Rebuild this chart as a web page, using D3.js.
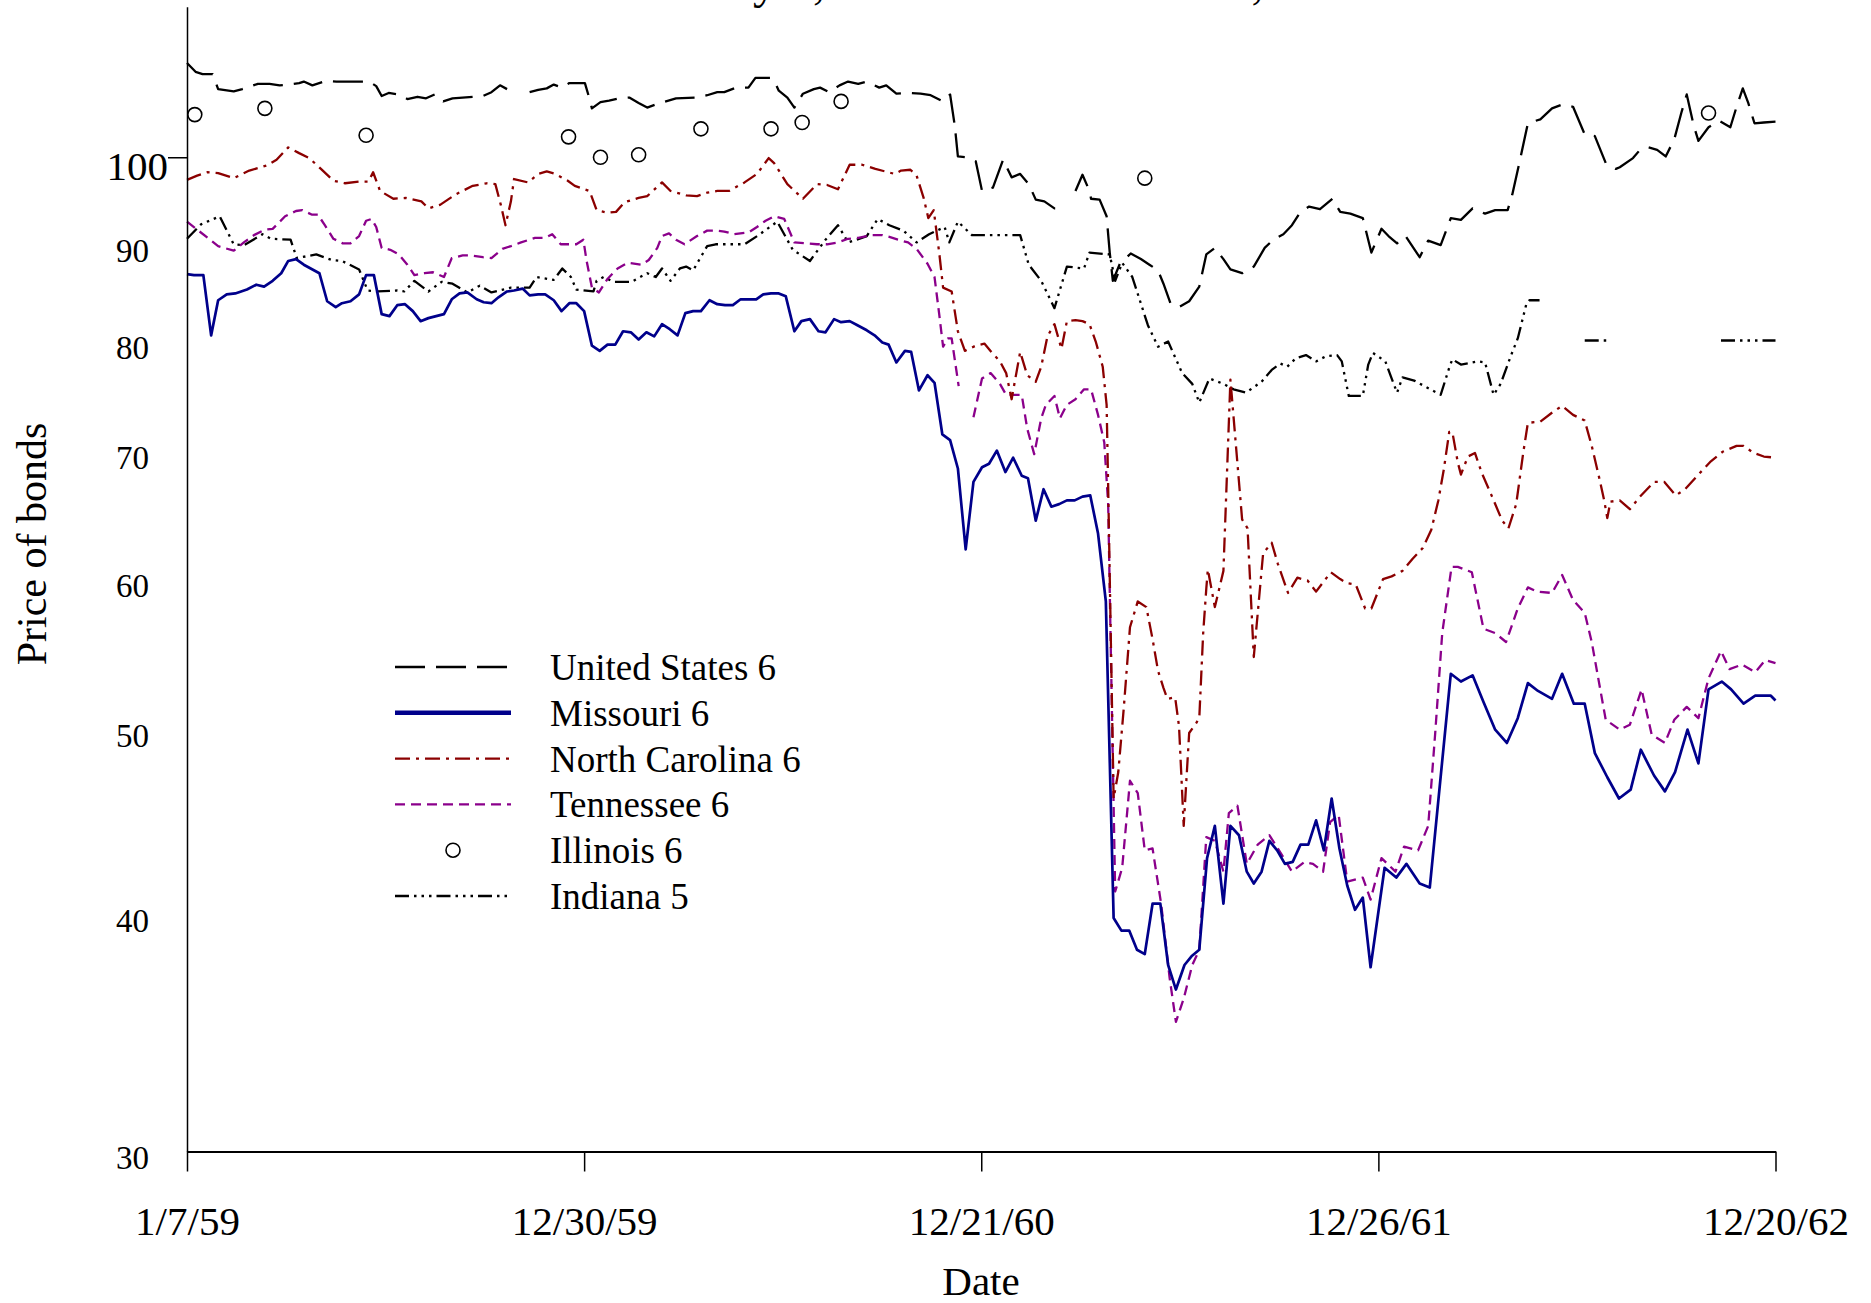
<!DOCTYPE html>
<html><head><meta charset="utf-8">
<script src="https://cdn.jsdelivr.net/npm/d3@7"></script>
<style>html,body{margin:0;padding:0;background:#fff;overflow:hidden}</style>
</head><body>
<svg id="chart" width="1871" height="1303" style="display:block"></svg>
<script>
// ---------------- DATA (week index from 1/7/59, price) ----------------
const xTickWeeks = [0, 51, 102, 153, 204];
const xTickLabels = ["1/7/59", "12/30/59", "12/21/60", "12/26/61", "12/20/62"];
const yTickValues = [30, 40, 50, 60, 70, 80, 90, 100];
const seriesNames = ["United States 6", "Missouri 6", "North Carolina 6", "Tennessee 6", "Illinois 6", "Indiana 5"];

const unitedStates6 = [[0,112.1],[1.1,110.9],[2,110.6],[3.3,110.6],[4,108.6],[6,108.3],[7.1,108.6],[9.1,109.3],[10.6,109.3],[11.9,109.1],[13,109.2],[14.4,109.4],[15,109.6],[16.1,109.1],[17.9,109.7],[19.2,109.6],[23.4,109.6],[24.3,109.0],[25,107.7],[25.9,108.1],[27.2,107.9],[28.3,107.3],[29.6,107.6],[30.7,107.4],[31.8,107.9],[32.9,107.0],[34.1,107.4],[36.7,107.6],[38,107.7],[39.1,108.2],[40.2,109.1],[41.1,108.6],[42.5,null],[44,108.2],[45.1,108.5],[46.2,108.7],[47.1,109.2],[48.2,108.8],[49.1,109.4],[51.1,109.4],[51.7,107.3],[52,106.1],[53.1,106.9],[54.2,107.1],[55.5,107.4],[56.8,107.5],[58,106.8],[59.1,106.2],[60.2,106.6],[61.5,107.0],[62.8,107.4],[65.5,107.5],[66.8,107.8],[68.1,108.2],[69,108.2],[70.5,108.8],[72.1,108.8],[73,110.1],[74.9,110.1],[75.4,109.7],[76,108.4],[77.1,107.5],[78,106.2],[79.1,108.0],[80.5,108.6],[81.3,108.8],[82.5,108.2],[83.8,109.1],[84.9,109.6],[86.2,109.3],[87.3,109.6],[88.9,108.8],[89.8,109.1],[91.1,108.0],[92.6,108.1],[94.2,108.0],[95.5,107.8],[97.1,107.0],[98,107.9],[98.6,103.9],[99,100.1],[100.1,100.0],[101.3,99.5],[102.1,96.0],[103.5,96.4],[104.8,99.7],[105.9,97.6],[107,98.0],[108.1,96.8],[109,95.0],[110.1,94.8],[111.4,94.0],[112.1,94.0],[113,null],[114.1,96.0],[115,97.9],[115.9,96.0],[116.1,95.1],[117.2,95.0],[118.1,93.1],[118.5,89.1],[118.9,86.1],[119.8,87.9],[121.2,89.0],[122.5,88.4],[123.6,87.8],[124.7,87.2],[125.4,85.8],[126.3,83.8],[127.4,83.4],[128.7,84.0],[130,85.5],[130.9,88.9],[132,89.6],[133.1,88.4],[134,87.3],[135.5,86.9],[137,87.6],[138.4,89.6],[139.5,90.5],[140.8,91.1],[141.9,92.1],[143,93.6],[144.1,94.2],[145.5,93.9],[147.1,95.1],[148.1,93.6],[149.4,93.4],[151,92.9],[152.1,89.1],[153.4,91.7],[154.3,90.9],[155.4,90.1],[156.5,90.9],[158.3,88.6],[159.4,90.4],[161,89.9],[162.3,92.9],[163.6,92.7],[165.1,94.0],[166.7,93.4],[168,93.8],[169.6,93.8],[170.2,95.6],[171.1,99.3],[172.2,104.2],[173.8,104.7],[175.3,106.1],[176.6,106.6],[178,106.3],[179.5,102.8],[180.8,102.6],[182.2,99.3],[183.5,98.6],[184,98.8],[185.7,99.9],[186.6,100.9],[187.7,101.2],[188.8,100.9],[189.9,100.1],[191,102.2],[191.9,105.5],[192.6,107.9],[193.5,103.9],[194.1,102.0],[195.4,103.7],[196.8,104.5],[198.2,103.7],[199,106.3],[199.8,108.7],[200.5,106.8],[201.3,104.2],[202.5,104.3],[204,104.4]];

const missouri6 = [[0,86.8],[0.9,86.7],[2.1,86.7],[3.1,80.6],[4,84.1],[5.1,84.7],[6.2,84.8],[7.7,85.2],[8.9,85.7],[9.9,85.5],[11,86.1],[12.1,86.9],[13,88.2],[14,88.4],[15,87.8],[17,86.9],[18,84.0],[19.1,83.4],[19.9,83.8],[21,84.0],[22.1,84.7],[23,86.7],[24,86.7],[25,82.7],[26,82.5],[27,83.6],[28,83.7],[29,83.0],[30,82.0],[31,82.3],[32,82.5],[33,82.7],[34,84.2],[35,84.8],[36,84.9],[37.2,84.2],[38.1,83.9],[39.1,83.8],[40,84.4],[41.1,85.0],[42,85.1],[43.1,85.3],[44,84.6],[45.1,84.7],[46,84.7],[47.1,84.1],[48.1,83.0],[49.1,83.8],[50,83.8],[51,83.0],[52,79.6],[53,79.1],[54,79.7],[55,79.7],[56,81.0],[57,80.9],[58,80.2],[59,80.9],[60,80.5],[61,81.7],[62,81.2],[63,80.6],[64,82.8],[65,83.0],[66,83.0],[67.1,84.1],[68.1,83.7],[69.1,83.6],[70.1,83.6],[71.1,84.2],[72,84.2],[73.1,84.2],[74,84.7],[75,84.8],[76,84.8],[76.9,84.5],[78,81.0],[78.9,82.0],[80,82.2],[81.1,81.0],[82,80.9],[83.1,82.2],[84,81.9],[85.1,82.0],[86.1,81.6],[87.3,81.1],[88.3,80.6],[89.3,79.9],[90.1,79.7],[91.1,78.0],[92.2,79.1],[93,79.0],[94,75.4],[95.1,76.8],[96,76.1],[97,71.5],[98,71.0],[99,68.6],[100,62.2],[101,67.5],[102.1,68.7],[103,69.0],[104,70.1],[105.1,68.3],[106.1,69.5],[107.2,68.0],[108,67.8],[109,64.4],[110,66.9],[111,65.5],[112,65.7],[113,66.0],[114,66.0],[115,66.3],[116,66.4],[117,63.4],[118,58.4],[119,39.8],[120,39.2],[121,39.2],[122,38.3],[123,38.1],[124,40.5],[125,40.5],[126,37.6],[127,36.5],[128.1,37.6],[129,38.0],[130,38.3],[131,42.8],[132,44.5],[133.1,40.5],[134,44.5],[135.1,44.0],[136.1,42.1],[137,41.5],[138,42.1],[139,43.7],[140,43.2],[141,42.5],[142,42.6],[143,43.5],[144,43.5],[145,44.8],[146,43.2],[147,46.0],[148,43.3],[149,41.4],[150,40.2],[151,40.8],[152,37.5],[153.8,42.3],[155.3,41.8],[156.6,42.5],[158.3,41.5],[159.6,41.3],[162.3,53.5],[163.6,53.0],[165.1,53.4],[166.5,51.7],[168,50.0],[169.5,49.2],[170.9,50.7],[172.2,52.9],[173.5,52.4],[175.3,51.9],[176.6,53.5],[178.1,51.6],[179.5,51.6],[180.8,48.6],[182.4,47.2],[183.9,46.0],[185.4,46.5],[186.7,48.8],[188.4,47.3],[189.8,46.4],[191.1,47.5],[192.7,50.0],[194.1,48.0],[195.4,52.5],[197.1,53.0],[198.3,52.5],[199.9,51.6],[201.4,52.1],[203.4,52.1],[204,51.8]];

const northCarolina6 = [[0,97.3],[1.3,97.8],[2.6,98.2],[4,98.1],[6,97.5],[8,98.4],[10.2,99.0],[11.5,99.7],[13,101.2],[14.4,100.5],[15.7,99.9],[17.2,98.6],[18.8,97.2],[20.3,96.9],[22.1,97.1],[23.3,97.1],[23.9,98.2],[24.8,96.0],[26.5,95.1],[28.1,95.2],[30.1,94.8],[31,94.0],[32.5,94.4],[34.5,95.6],[36.7,96.6],[38.5,96.9],[39.6,96.8],[40.3,94.4],[40.9,92.1],[41.6,94.8],[42,97.4],[43.8,97.0],[45.1,98.0],[46.2,98.3],[47.3,98.0],[48.9,97.2],[49.8,96.6],[51.7,96.0],[52.6,93.8],[54,93.5],[55.1,93.6],[56.2,94.7],[58,95.2],[59.1,95.4],[61,97.0],[62.1,96.0],[64.1,95.5],[65.5,95.4],[66.8,95.8],[68.1,96.0],[69.6,96.0],[71.6,97.0],[73.2,98.0],[74.7,99.9],[75.4,99.3],[77.1,96.8],[79.1,95.1],[80.9,96.8],[82.2,96.7],[83.6,96.2],[85.1,99.1],[86.7,99.1],[88.4,98.6],[90.9,98.0],[91.7,98.4],[92.9,98.5],[93.7,97.8],[94.6,95.2],[95.2,92.9],[95.9,93.8],[96.6,89.1],[97.1,85.4],[98.2,85.0],[99,81.0],[99.9,79.1],[101.3,79.6],[102.4,79.8],[103.3,79.0],[104.4,78.1],[105.2,77.0],[105.9,74.6],[107,79.0],[107.9,76.8],[109,76.2],[109.7,77.6],[110.5,80.5],[111.4,81.7],[112.3,79.3],[113,82.0],[114.1,82.1],[115,82.0],[115.9,81.7],[116.7,80.0],[117.6,77.6],[118.1,74.1],[118.3,67.1],[119,46.0],[119.6,47.5],[120.3,51.3],[121.1,56.6],[122.1,58.4],[123.2,58.0],[124,55.8],[124.7,53.7],[125.4,52.6],[125.9,51.9],[126.9,52.0],[127.4,50.2],[128,44.5],[128.7,49.8],[129.6,50.4],[130,50.7],[130.5,56.2],[130.9,59.3],[131.1,60.7],[132,58.0],[133.1,60.6],[134,76.4],[135.5,64.5],[136.2,63.8],[137,54.6],[138.2,61.9],[139.3,62.7],[140.1,61.1],[141.4,59.0],[142.6,60.1],[143.9,59.9],[145,59.1],[146.9,60.5],[148.1,60.0],[149,59.7],[150.1,59.6],[151.3,57.9],[152.1,57.9],[153.6,60.0],[154.7,60.2],[156.1,60.6],[157.4,61.5],[158.7,62.3],[159.8,63.7],[160.7,66.0],[161.4,68.5],[162.1,71.7],[162.5,71.7],[163.2,69.1],[163.6,68.1],[164.5,69.6],[165.4,69.9],[166.3,68.2],[167.6,66.3],[168.9,64.4],[169.7,63.8],[170.7,65.7],[171.6,69.9],[172.2,72.5],[173.8,72.6],[175.5,73.5],[176.6,74.0],[178,73.2],[179.5,72.7],[180.4,70.5],[181.3,68.0],[182,66.0],[182.4,64.6],[182.8,65.9],[184,66.0],[185.3,65.3],[186.6,66.3],[188.4,67.5],[189.7,67.5],[191.2,66.4],[192.4,66.9],[194.1,68.1],[195.7,69.2],[197.2,70.0],[199,70.5],[199.9,70.5],[201.2,69.9],[202.5,69.6],[204,69.5]];

const tennessee6 = [[0,92.5],[4,89.8],[6,89.3],[7.3,90.2],[8.6,91.0],[10,91.6],[11,91.7],[12.6,93.1],[14,93.7],[14.8,93.8],[16,93.3],[16.8,93.3],[17.7,92.1],[18.8,90.6],[20,90.1],[21,90.1],[22.1,90.9],[23,92.6],[23.7,92.8],[24.3,91.9],[25,89.6],[26.1,89.4],[27.2,88.9],[28.3,87.8],[29.2,86.7],[30.5,86.9],[31.6,87.0],[33,86.5],[34,88.5],[35.4,88.8],[36.3,88.8],[38,88.6],[39.1,88.5],[40.5,89.5],[41.6,89.8],[42.9,90.2],[44.7,90.7],[46,90.7],[46.9,91.1],[48,90.0],[50,90.0],[50.9,90.5],[51.3,88.3],[52,85.4],[52.9,84.9],[54,86.3],[55.3,87.4],[56.6,88.0],[58.4,87.8],[59.3,88.3],[60.4,89.6],[61,90.9],[61.9,91.2],[62.8,90.5],[63.9,90.0],[65.5,90.9],[66.8,91.5],[68.1,91.5],[69,91.4],[70.3,91.1],[72.1,91.3],[73.2,91.9],[74.3,92.6],[75.4,93.1],[76.7,92.8],[78,90.2],[79.4,90.1],[80.9,90.0],[82.2,90.0],[83.6,90.2],[84.9,90.6],[86.2,90.7],[88,91.0],[89.3,91.0],[90.2,90.8],[91.3,90.5],[92.6,90.2],[93.7,89.5],[95.1,87.9],[96,86.5],[96.6,82.7],[97.1,79.5],[97.7,80.3],[98.2,80.3],[99.1,75.8],[100,null],[101,73.0],[102.1,76.5],[103.2,77.0],[104.4,76.0],[105.2,75.0],[107.2,75.0],[107.9,72.0],[108.8,69.8],[109.7,72.9],[110.3,74.1],[111.4,74.9],[112.1,72.9],[113,74.1],[114.1,74.6],[115.2,75.5],[116.1,75.5],[117,73.2],[117.8,70.8],[118.3,65.7],[119.2,41.1],[120.1,42.3],[121.1,47.0],[122.1,46.3],[123,43.2],[124,43.3],[125.1,40.5],[126.2,37.0],[127,35.1],[128,36.1],[129.1,37.6],[130,38.3],[130.9,43.9],[132,43.7],[133.1,42.1],[133.8,45.2],[134.9,45.6],[136.1,42.5],[137.5,43.5],[139,44.0],[140.4,43.1],[141.9,42.1],[143.5,42.6],[144.6,42.5],[145.9,42.1],[146.8,44.7],[147.9,45.1],[149,41.6],[151,41.8],[152,40.7],[153.4,42.8],[155.2,42.1],[156.3,43.4],[158.1,43.2],[159.4,44.5],[160.3,49.8],[161.2,56.2],[162.4,60.9],[163.2,60.9],[165,60.5],[166.5,56.5],[168,56.2],[169.4,55.6],[170.9,57.9],[172.2,59.4],[173.4,59.1],[175.3,59.0],[176.6,60.3],[178,58.5],[179.5,57.6],[180.4,55.6],[182.2,50.6],[184,50.0],[185.3,50.3],[186.8,52.5],[188.1,49.7],[189.8,49.2],[191,50.6],[192.6,51.4],[194.1,50.7],[195.4,53.2],[197,55.0],[198.1,53.8],[199.7,54.1],[201.4,53.6],[202.7,54.4],[204,54.2]];

const illinois6 = [[1,105.3],[10,106.1],[23,102.7],[49,102.5],[53.1,100.0],[58,100.3],[66,103.5],[75,103.5],[79,104.3],[84,107.0],[123,97.5],[195.4,105.5]];

const indiana5 = [[0,90.6],[1.8,92.2],[4.2,93.1],[6,90.0],[7.3,89.9],[9.7,91.1],[10.8,90.6],[13.3,90.5],[14.1,88.5],[16.6,88.9],[18.6,88.3],[19.9,88.2],[22.1,87.3],[23.2,85.1],[24.5,85.0],[27,85.1],[27.9,85.0],[29.2,86.1],[31,85.0],[32.7,86.0],[34.1,85.8],[36,84.9],[37.6,85.6],[39.1,84.9],[41.6,85.4],[44,85.4],[44.9,86.5],[47.1,86.2],[48.2,87.4],[49.3,86.5],[50,85.2],[52.2,85.0],[52.6,86.1],[53.5,86.5],[54.8,86.0],[57.1,86.0],[58.2,86.5],[59.1,86.9],[60.2,86.5],[61,87.4],[62.1,86.1],[63.3,87.4],[64.1,87.6],[65,87.2],[65.9,88.5],[66.8,89.8],[67.9,90.0],[71.6,90.0],[73.4,91.0],[75.8,92.5],[77.8,89.4],[80,88.2],[82,90.5],[83.6,92.1],[84.9,90.2],[86,90.5],[87.3,90.9],[88.7,92.8],[90.2,92.1],[92,91.5],[93.7,90.2],[95.3,91.1],[97.3,91.9],[97.9,90.2],[99,92.5],[100.8,91.0],[107,91.0],[108.1,87.8],[109.7,86.1],[111.4,83.3],[113,87.6],[115.2,87.4],[115.9,89.1],[118.5,88.9],[119.2,86.1],[120.1,88.0],[121.4,86.5],[123.4,81.6],[124.7,79.5],[126,80.0],[127.8,77.0],[129.1,76.0],[130,74.3],[131.3,76.5],[133.1,76.0],[134.4,75.5],[136,75.2],[138,76.2],[139.3,77.3],[140.4,77.9],[141.3,77.6],[142.4,78.4],[143.7,78.7],[145,78.1],[146.3,78.6],[147.7,78.7],[148.3,78.1],[149.2,74.9],[151,74.9],[151.7,77.8],[152.3,78.9],[153.9,78.1],[154.7,76.5],[155.4,75.2],[156.1,76.6],[157.6,76.3],[161,75.0],[162.1,77.5],[162.5,78.3],[163.6,77.8],[165.8,78.1],[166.7,78.0],[167.8,75.0],[168.7,76.0],[170,78.6],[170.9,80.3],[172,83.7],[172.4,84.1],[173.7,84.1],[176,null],[179.5,80.1],[181,80.1],[182.4,80.1],[190,null],[197,80.1],[198.5,80.1],[200,80.1],[201.5,80.1],[203,80.1],[204,80.1]];

// ---------------- DRAWING ----------------
const FONT = "'Liberation Serif','Times New Roman',Times,serif";
const svg = d3.select("#chart").style("font-family", FONT);

const x = d3.scaleLinear().domain([0, 204]).range([187, 1775.5]);
const y = d3.scaleLog().domain([30, 120]).range([1151.5, 6.7]);

// title, lying above the page edge: only its descenders show, as in the original
svg.append("text").attr("x", 277).attr("y", -2)
  .attr("font-size", 48).attr("fill", "#000")
  .text("Bond Prices from January 7, 1959 to December 20, 1962");

const styles = {
  "United States 6":  {data: unitedStates6,  color: "#000000", width: 2.3, dash: "30,11"},
  "Missouri 6":       {data: missouri6,      color: "#00008B", width: 2.7, dash: null, legendWidth: 4.5},
  "North Carolina 6": {data: northCarolina6, color: "#8B0000", width: 2.3, dash: "15,6,3,6"},
  "Tennessee 6":      {data: tennessee6,     color: "#8B008B", width: 2.3, dash: "10,6"},
  "Illinois 6":       {data: illinois6,      color: "#000000", width: 1.6, marker: true},
  "Indiana 5":        {data: indiana5,       color: "#000000", width: 2.3, dash: "14,5,2.5,5,2.5,5,2.5,5"}
};

const line = d3.line()
  .defined(d => d[1] != null)
  .x(d => x(d[0]))
  .y(d => y(d[1]));

const drawOrder = ["Indiana 5", "Tennessee 6", "North Carolina 6", "United States 6", "Missouri 6"];
drawOrder.forEach(name => {
  const s = styles[name];
  svg.append("path")
    .attr("d", line(s.data))
    .attr("fill", "none")
    .attr("stroke", s.color)
    .attr("stroke-width", s.width)
    .attr("stroke-dasharray", s.dash)
    .attr("stroke-linejoin", "round");
});

svg.append("g").selectAll("circle")
  .data(illinois6).join("circle")
  .attr("cx", d => x(d[0])).attr("cy", d => y(d[1])).attr("r", 7)
  .attr("fill", "none").attr("stroke", "#000").attr("stroke-width", 1.6);

// x axis
const xAxis = d3.axisBottom(x)
  .tickValues(xTickWeeks)
  .tickFormat((d, i) => xTickLabels[i])
  .tickSize(20).tickSizeOuter(0).tickPadding(34);
const gx = svg.append("g").attr("transform", `translate(0,${y(30)})`).call(xAxis);
gx.select(".domain").attr("stroke-width", 2.2);
gx.selectAll(".tick line").attr("stroke-width", 1.5);
gx.selectAll(".tick text").attr("font-size", 41).attr("font-family", FONT).attr("fill", "#000");

// y axis
const yAxis = d3.axisLeft(y)
  .tickValues(yTickValues)
  .tickFormat(d3.format("d"))
  .tickSize(0).tickSizeOuter(0).tickPadding(38);
const gy = svg.append("g").attr("transform", `translate(${x(0)},0)`).call(yAxis);
gy.select(".domain").attr("stroke-width", 1.5);
gy.selectAll(".tick text").attr("font-size", 33).attr("font-family", FONT)
  .attr("fill", "#000").attr("dy", "0.52em");
const t100 = gy.selectAll(".tick").filter(d => d === 100);
t100.select("line").attr("x2", -19).attr("stroke-width", 1.5);
t100.select("text").attr("x", -19).attr("font-size", 41).attr("dy", "0.55em");

// axis titles
svg.append("text").attr("x", 981).attr("y", 1295)
  .attr("text-anchor", "middle").attr("font-size", 41).text("Date");
svg.append("text").attr("transform", "translate(46,544) rotate(-90)")
  .attr("text-anchor", "middle").attr("font-size", 42).text("Price of bonds");

// legend
const legendRowY = d3.scalePoint().domain(seriesNames).range([667, 896]);
const lg = svg.append("g");
seriesNames.forEach(name => {
  const s = styles[name];
  const yy = legendRowY(name);
  if (s.marker) {
    lg.append("circle").attr("cx", 453).attr("cy", yy).attr("r", 7)
      .attr("fill", "none").attr("stroke", "#000").attr("stroke-width", 1.6);
  } else {
    lg.append("line").attr("x1", 395).attr("x2", 511).attr("y1", yy).attr("y2", yy)
      .attr("stroke", s.color).attr("stroke-width", s.legendWidth || s.width)
      .attr("stroke-dasharray", s.dash);
  }
  lg.append("text").attr("x", 550).attr("y", yy + 13)
    .attr("font-size", 37).attr("fill", "#000").text(name);
});
</script>
</body></html>
